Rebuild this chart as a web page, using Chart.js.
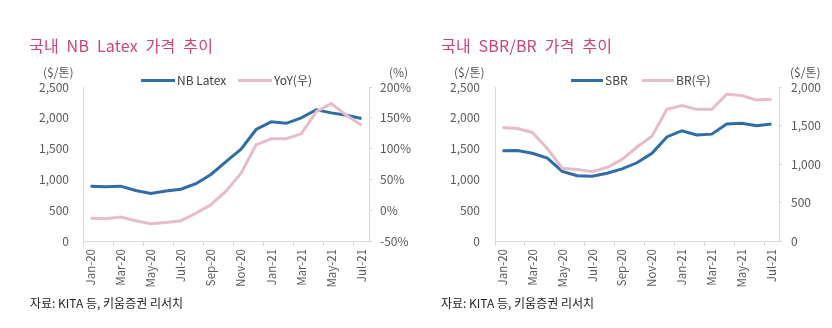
<!DOCTYPE html>
<html><head><meta charset="utf-8">
<script src="https://cdn.jsdelivr.net/npm/chart.js@4/dist/chart.umd.min.js"></script>
<style>
html,body{margin:0;padding:0;background:#fff;}
body{width:832px;height:328px;position:relative;overflow:hidden;font-family:'Noto Sans CJK KR','Noto Sans',sans-serif;}
canvas{position:absolute;top:0;}
.t{position:absolute;white-space:nowrap;line-height:1;}
.title{font-size:16px;color:#c8467e;top:37px;word-spacing:4px;letter-spacing:0.2px;}
.unit{font-size:12px;color:#595959;top:66px;}
.foot{font-size:12px;color:#222;top:297px;}
.leg{font-size:12px;color:#404040;top:74px;}
.sw{position:absolute;height:3px;top:79px;}
</style></head>
<body>
<canvas id="c1" width="416" height="328" style="left:0"></canvas>
<canvas id="c2" width="416" height="328" style="left:416px"></canvas>

<div class="t title" style="left:29px">국내 NB Latex 가격 추이</div>
<div class="t unit" style="left:43px">($/톤)</div>
<div class="t unit" style="left:389px">(%)</div>
<div class="sw" style="left:141px;width:34px;background:#2f6ca8"></div>
<div class="t leg" style="left:177px">NB Latex</div>
<div class="sw" style="left:238px;width:34px;background:#e6bccb"></div>
<div class="t leg" style="left:274px">YoY(우)</div>
<div class="t foot" style="left:30px">자료: KITA 등, 키움증권 리서치</div>

<div class="t title" style="left:441px">국내 SBR/BR 가격 추이</div>
<div class="t unit" style="left:454px">($/톤)</div>
<div class="t unit" style="left:790px">($/톤)</div>
<div class="sw" style="left:571px;width:32px;background:#2f6ca8"></div>
<div class="t leg" style="left:605px">SBR</div>
<div class="sw" style="left:642px;width:32px;background:#e6bccb"></div>
<div class="t leg" style="left:676px">BR(우)</div>
<div class="t foot" style="left:441px">자료: KITA 등, 키움증권 리서치</div>

<script>
const months = ['Jan-20','Feb-20','Mar-20','Apr-20','May-20','Jun-20','Jul-20','Aug-20','Sep-20','Oct-20','Nov-20','Dec-20','Jan-21','Feb-21','Mar-21','Apr-21','May-21','Jun-21','Jul-21'];
const nbLatex = [890,880,890,820,770,810,840,930,1080,1290,1490,1810,1935,1910,2000,2130,2080,2040,1990];
const nbYoY = [-13,-14,-11,-17,-22,-20,-17,-5,9,31,60,106,116,116,124,160,173,154,138];
const sbr = [1465,1468,1425,1345,1130,1060,1050,1100,1170,1270,1425,1690,1790,1720,1735,1900,1910,1870,1900];
const br = [1475,1460,1410,1200,945,930,900,955,1060,1220,1360,1710,1760,1710,1710,1905,1890,1830,1840];

const BLUE = '#2f6ca8', PINK = '#e6bccb', AXIS = '#d9d9d9', TXT = '#595959';
Chart.defaults.font.family = "'Noto Sans CJK KR','Noto Sans',sans-serif";
Chart.defaults.color = TXT;

function fmt(v){ return String(v).replace(/\B(?=(\d{3})+(?!\d))/g, ','); }

function makeChart(id, d1, d2, leftW, rightW, rightOpts, leftPad){
  return new Chart(document.getElementById(id), {
    type: 'line',
    data: {
      labels: months,
      datasets: [
        {data: d2, yAxisID: 'y1', borderColor: PINK, borderWidth: 3, pointRadius: 0, tension: 0, order: 0},
        {data: d1, yAxisID: 'y', borderColor: BLUE, borderWidth: 3, pointRadius: 0, tension: 0, order: 1}
      ]
    },
    options: {
      responsive: false, animation: false,
      layout: {padding: {top: 87, left: 0, right: 0, bottom: 0}},
      plugins: {legend: {display: false}, tooltip: {enabled: false}},
      scales: {
        x: {
          offset: true,
          afterFit: s => { s.height = 87; },
          grid: {offset: true, drawOnChartArea: false, drawTicks: true, tickLength: 5,
                 color: c => (c.index !== undefined && c.index % 2 === 0) ? AXIS : 'rgba(0,0,0,0)'},
          border: {display: true, color: AXIS},
          ticks: {autoSkip: false, minRotation: 90, maxRotation: 90, padding: 3,
                  font: {size: 11.5}, color: TXT,
                  callback: function(v, i){ return i % 2 === 0 ? months[i] : ''; }}
        },
        y: {
          position: 'left', min: 0, max: 2500,
          afterFit: s => { s.width = leftW; },
          grid: {drawOnChartArea: false, drawTicks: false},
          border: {display: true, color: AXIS},
          ticks: {stepSize: 500, padding: leftPad, font: {size: 12}, color: TXT, callback: v => fmt(v)}
        },
        y1: Object.assign({
          position: 'right',
          afterFit: s => { s.width = rightW; },
          grid: {drawOnChartArea: false, drawTicks: true, tickLength: 3, color: AXIS},
          border: {display: true, color: AXIS}
        }, rightOpts)
      }
    }
  });
}

makeChart('c1', nbLatex, nbYoY, 83, 47,
  {min: -50, max: 200, ticks: {stepSize: 50, padding: 8, font: {size: 12}, color: TXT, callback: v => v + '%'}}, 14);
makeChart('c2', sbr, br, 79, 53,
  {min: 0, max: 2000, ticks: {stepSize: 500, padding: 9, font: {size: 12}, color: TXT, callback: v => fmt(v)}}, 15);
</script>
</body></html>
